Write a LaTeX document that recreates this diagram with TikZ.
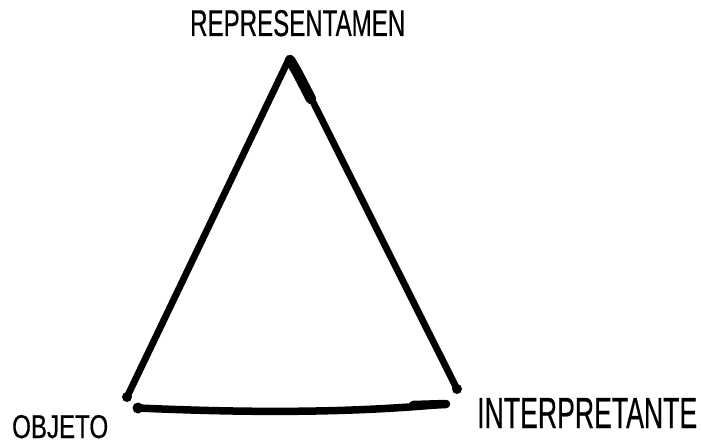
\documentclass[tikz,border=0pt]{standalone}
\usepackage{fontspec}
\usepackage{graphicx}
\setmainfont{Liberation Sans}[FakeBold=0.6]
\tikzset{
  stroke/.style={line width=6.8pt, line cap=round, line join=round, black},
  heavy/.style={line width=10.5pt, line cap=round, black},
  lbl/.style={inner sep=0pt, text=black, anchor=base west}
}
\begin{document}
\begin{tikzpicture}[x=1pt,y=-1pt]
\useasboundingbox (0,0) rectangle (701,444);
\coordinate (T) at (290,60);
\coordinate (TL) at (288,61);
\coordinate (TR) at (293,62);
\coordinate (L) at (127,397);
\coordinate (BL) at (138,408);
\coordinate (R) at (457,389);
\coordinate (BR) at (446,404);
\node[lbl] (rep) at (190,36) {\resizebox{215pt}{26pt}{REPRESENTAMEN}};
\node[lbl] (obj) at (12,438) {\resizebox{96pt}{23pt}{OBJETO}};
\node[lbl] (int) at (477,428) {\resizebox{220pt}{30pt}{INTERPRETANTE}};
\draw[stroke] (TL) -- (L);
\draw[stroke] (TR) -- (R);
\draw[stroke, line width=7.5pt] (BL) .. controls (250,413) and (350,413) .. (BR);
\coordinate (H1) at (297,72);
\coordinate (H2) at (311,99);
\draw[heavy] (T) -- (H1) -- (H2);
\coordinate (B1) at (413,405);
\draw[line width=8.5pt, line cap=round] (B1) -- (BR);
\fill (L) circle (5pt);
\fill (BL) circle (5.5pt);
\fill (R) circle (5pt);
\end{tikzpicture}
\end{document}
